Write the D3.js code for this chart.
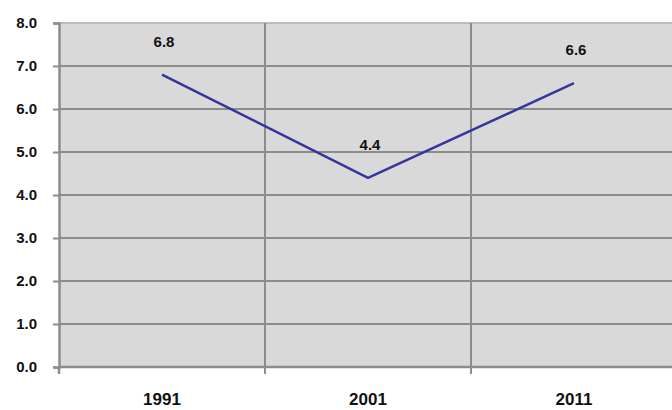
<!DOCTYPE html>
<html><head><meta charset="utf-8">
<script src="https://cdn.jsdelivr.net/npm/d3@7"></script>
<style>body{margin:0;background:#fff;} svg{display:block;}</style>
</head><body>
<script>
const categories = ["1991", "2001", "2011"];
const values = [6.8, 4.4, 6.6];
const yTicks = [0, 1, 2, 3, 4, 5, 6, 7, 8];

const W = 672, H = 410;
const m = {left: 59, top: 23, right: -5, bottom: 43};
const FONT = "Liberation Sans, Arial, sans-serif";
const svg = d3.select("body").append("svg").attr("width", W).attr("height", H);
const x = d3.scaleBand().domain(categories).range([m.left, W - m.right]);
const y = d3.scaleLinear().domain([0, 8]).range([H - m.bottom, m.top]);

svg.append("rect").attr("x", m.left).attr("y", m.top)
  .attr("width", W - m.right - m.left).attr("height", H - m.bottom - m.top)
  .attr("fill", "#d9d9d9");

// horizontal gridlines
svg.append("g").selectAll("line").data(yTicks.filter(d => d > 0)).join("line")
  .attr("x1", m.left).attr("x2", W - m.right)
  .attr("y1", d => y(d)).attr("y2", d => y(d))
  .attr("stroke", d => d === 8 ? "#bcbcbc" : "#8c8c8c").attr("stroke-width", 2);

// vertical gridlines at category boundaries
const bounds = categories.slice(1).map(c => x(c));
svg.append("g").selectAll("line").data(bounds).join("line")
  .attr("x1", d => d).attr("x2", d => d)
  .attr("y1", m.top).attr("y2", H - m.bottom + 7)
  .attr("stroke", "#8c8c8c").attr("stroke-width", 2);

// y axis
const yAxis = svg.append("g").attr("transform", `translate(${m.left},0)`)
  .call(d3.axisLeft(y).tickValues(yTicks).tickFormat(d3.format(".1f")).tickSize(6).tickPadding(16));
yAxis.select(".domain").attr("stroke", "#8c8c8c").attr("stroke-width", 2.5);
yAxis.selectAll(".tick line").attr("stroke", "#8c8c8c").attr("stroke-width", 2);
yAxis.selectAll("text").attr("font-family", FONT)
  .attr("font-weight", "bold").attr("font-size", 15).attr("fill", "#111");

// x axis
svg.append("line").attr("x1", m.left).attr("x2", W)
  .attr("y1", y(0)).attr("y2", y(0)).attr("stroke", "#8c8c8c").attr("stroke-width", 2.5);
svg.append("line").attr("x1", m.left).attr("x2", m.left)
  .attr("y1", y(0)).attr("y2", y(0) + 7).attr("stroke", "#8c8c8c").attr("stroke-width", 2.5);
svg.append("g").selectAll("text").data(categories).join("text")
  .attr("x", d => x(d) + x.bandwidth() / 2).attr("y", 405)
  .attr("text-anchor", "middle")
  .attr("font-family", FONT)
  .attr("font-weight", "bold").attr("font-size", 17).attr("fill", "#111")
  .text(d => d);

// line
const line = d3.line().x((d, i) => x(categories[i]) + x.bandwidth() / 2).y(d => y(d));
svg.append("path").datum(values).attr("d", line)
  .attr("fill", "none").attr("stroke", "#35359e").attr("stroke-width", 2.5);

// data labels
svg.append("g").selectAll("text").data(values).join("text")
  .attr("x", (d, i) => x(categories[i]) + x.bandwidth() / 2 + 2)
  .attr("y", d => y(d) - 28)
  .attr("text-anchor", "middle")
  .attr("font-family", FONT)
  .attr("font-weight", "bold").attr("font-size", 15).attr("fill", "#111")
  .text(d => d.toFixed(1));
</script>
</body></html>
